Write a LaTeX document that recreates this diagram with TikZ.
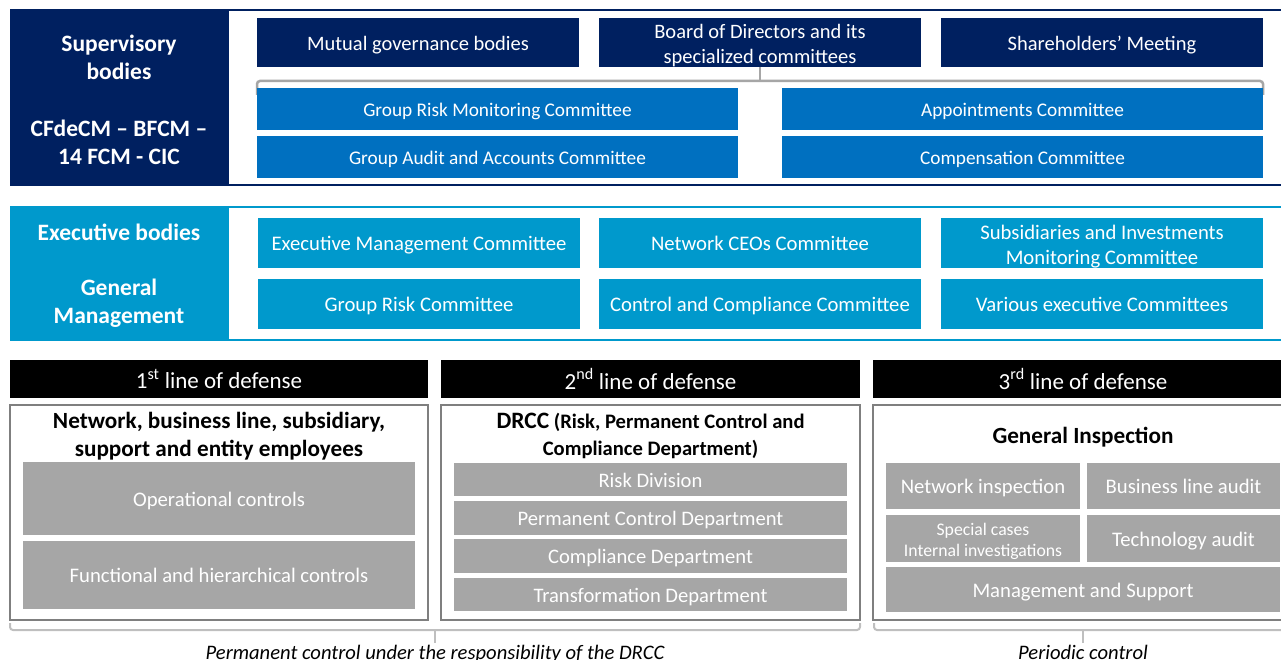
\documentclass[tikz,border=0pt]{standalone}
\usepackage{fontspec}
\setmainfont{Carlito}
\definecolor{navy}{HTML}{002060}
\definecolor{mblue}{HTML}{0070C0}
\definecolor{cblue}{HTML}{0099CC}
\definecolor{gbox}{HTML}{A6A6A6}
\definecolor{gborder}{HTML}{7F7F7F}
\definecolor{gbrack}{HTML}{BFBFBF}
\newcommand{\upstrut}{\rule{0pt}{1.0em}}
\tikzset{
  basebox/.style={inner sep=0pt, outer sep=0pt, align=center, text=white},
  oneline/.style={text height=17.5pt, text depth=2pt},
  navybox/.style={basebox, fill=navy, minimum width=322pt, minimum height=49pt, font=\fontsize{20.5}{24.5}\selectfont},
  bluebox/.style={basebox, text height=16.5pt, text depth=2pt, fill=mblue, minimum width=481pt, minimum height=42pt, font=\fontsize{19.3}{23}\selectfont},
  cyanbox/.style={basebox, fill=cblue, minimum width=322pt, minimum height=50pt, font=\fontsize{20.7}{25}\selectfont},
  blackbar/.style={basebox, fill=black, minimum height=38pt, font=\fontsize{23}{26}\selectfont},
  colframe/.style={draw=gborder, line width=2pt, fill=white, inner sep=0pt},
  graybox/.style={basebox, fill=gbox, font=\fontsize{20.7}{24}\selectfont},
  sidetext/.style={text=white, align=center, font=\bfseries\fontsize{23.5}{28}\selectfont},
  titletext/.style={align=center, font=\bfseries\fontsize{23.2}{28}\selectfont},
  bracketline/.style={line width=2pt, rounded corners=3pt},
  notetext/.style={font=\itshape\fontsize{20.6}{24}\selectfont}
}
\begin{document}
\begin{tikzpicture}[x=1pt,y=-1pt]
\useasboundingbox (0,0) rectangle (1281,660);
\clip (0,0) rectangle (1281,660);
% ---------------- Supervisory panel ----------------
\fill[navy] (10,9) rectangle (1300,186.5);
\fill[white] (229,11.5) rectangle (1300,184);
\node[sidetext] (sup) at (119,57) {Supervisory\\bodies};
\node[sidetext] (cf) at (119,142) {CFdeCM – BFCM –\\14 FCM - CIC};

\node[navybox, oneline] (mutual) at (418,42.5) {Mutual governance bodies};
\node[navybox] (board) at (760,42.5) {\upstrut Board of Directors and its\\specialized committees};
\node[navybox, oneline] (share) at (1102,42.5) {Shareholders’ Meeting};

\coordinate (bl) at (257,95);
\coordinate (br) at (1263,95);
\coordinate (bm) at (760,81);
\draw[gbox, bracketline, line width=2.5pt] (bl) -- (257,81) -- (1263,81) -- (br);
\draw[gbox, line width=2pt] (board.south) -- (bm);

\node[bluebox] (grmc) at (497.5,109) {Group Risk Monitoring Committee};
\node[bluebox] (appt) at (1022.5,109) {Appointments Committee};
\node[bluebox] (gaac) at (497.5,157) {Group Audit and Accounts Committee};
\node[bluebox] (comp) at (1022.5,157) {Compensation Committee};

% ---------------- Executive panel ----------------
\fill[cblue] (10,206) rectangle (1300,341);
\fill[white] (229,208.5) rectangle (1300,338.5);
\node[sidetext] (exb) at (119,232) {Executive bodies};
\node[sidetext] (gm) at (119,303) {General\\Management};

\node[cyanbox, oneline] (emc) at (419,243) {Executive Management Committee};
\node[cyanbox, oneline] (ncc) at (760,243) {Network CEOs Committee};
\node[cyanbox] (sim) at (1102,243) {\upstrut Subsidiaries and Investments\\Monitoring Committee};
\node[cyanbox, oneline] (grc) at (419,304) {Group Risk Committee};
\node[cyanbox, oneline] (ccc) at (760,304) {Control and Compliance Committee};
\node[cyanbox, oneline] (vec) at (1102,304) {Various executive Committees};

% ---------------- Lines of defense ----------------
\node[blackbar, minimum width=418pt] (l1) at (219,379) {1\textsuperscript{st} line of defense};
\node[blackbar, minimum width=419pt] (l2) at (650.5,379) {2\textsuperscript{nd} line of defense};
\node[blackbar, minimum width=420pt] (l3) at (1083,379) {3\textsuperscript{rd} line of defense};

\node[colframe, minimum width=418pt, minimum height=215pt] (c1) at (219,512.5) {};
\node[colframe, minimum width=419pt, minimum height=215pt] (c2) at (650.5,512.5) {};
\node[colframe, minimum width=420pt, minimum height=215pt] (c3) at (1083,512.5) {};

% column 1
\node[titletext] (t1) at (219,436) {Network, business line, subsidiary,\\support and entity employees};
\node[graybox, oneline, minimum width=392pt, minimum height=73pt] (opc) at (219,498.5) {Operational controls};
\node[graybox, oneline, minimum width=392pt, minimum height=68pt] (fhc) at (219,575) {Functional and hierarchical controls};

% column 2
\node[align=center, font=\bfseries\fontsize{20.6}{27}\selectfont] (t2) at (650.5,436) {{\fontsize{23.5}{27}\selectfont DRCC} (Risk, Permanent Control and\\Compliance Department)};
\node[graybox, oneline, minimum width=393pt, minimum height=33pt, font=\fontsize{20.6}{24}\selectfont] (rd) at (650.5,479.5) {Risk Division};
\node[graybox, oneline, minimum width=393pt, minimum height=34pt, font=\fontsize{20.6}{24}\selectfont] (pcd) at (650.5,518) {Permanent Control Department};
\node[graybox, oneline, minimum width=393pt, minimum height=34pt, font=\fontsize{20.6}{24}\selectfont] (cd) at (650.5,556) {Compliance Department};
\node[graybox, oneline, minimum width=393pt, minimum height=33pt, font=\fontsize{20.6}{24}\selectfont] (td) at (650.5,594.5) {Transformation Department};

% column 3
\node[titletext] (t3) at (1083,437) {General Inspection};
\node[graybox, oneline, minimum width=194pt, minimum height=46pt] (ni) at (983,486) {Network inspection};
\node[graybox, oneline, minimum width=193pt, minimum height=46pt] (bla) at (1183.5,486) {Business line audit};
\node[graybox, minimum width=194pt, minimum height=47pt, font=\fontsize{17.7}{21}\selectfont] (sc) at (983,538.5) {\upstrut Special cases\\Internal investigations};
\node[graybox, oneline, minimum width=193pt, minimum height=47pt] (ta) at (1183.5,538.5) {Technology audit};
\node[graybox, oneline, minimum width=394pt, minimum height=45pt] (ms) at (1083,589.5) {Management and Support};

% ---------------- bottom brackets ----------------
\coordinate (p1) at (10,623);
\coordinate (p2) at (860,623);
\coordinate (pm) at (435,643);
\draw[gbrack, bracketline] (p1) -- (10,630) -- (860,630) -- (p2);
\draw[gbrack, line width=2pt] (435,630) -- (pm);
\node[notetext, anchor=base] (pnote) at (pm |- 0,659) {Permanent control under the responsibility of the DRCC};

\coordinate (q1) at (874,623);
\coordinate (q2) at (1292,623);
\coordinate (qm) at (1083,643);
\draw[gbrack, bracketline] (q1) -- (874,630) -- (1292,630) -- (q2);
\draw[gbrack, line width=2pt] (1083,630) -- (qm);
\node[notetext, anchor=base] (qnote) at (qm |- 0,659) {Periodic control};
\end{tikzpicture}
\end{document}
